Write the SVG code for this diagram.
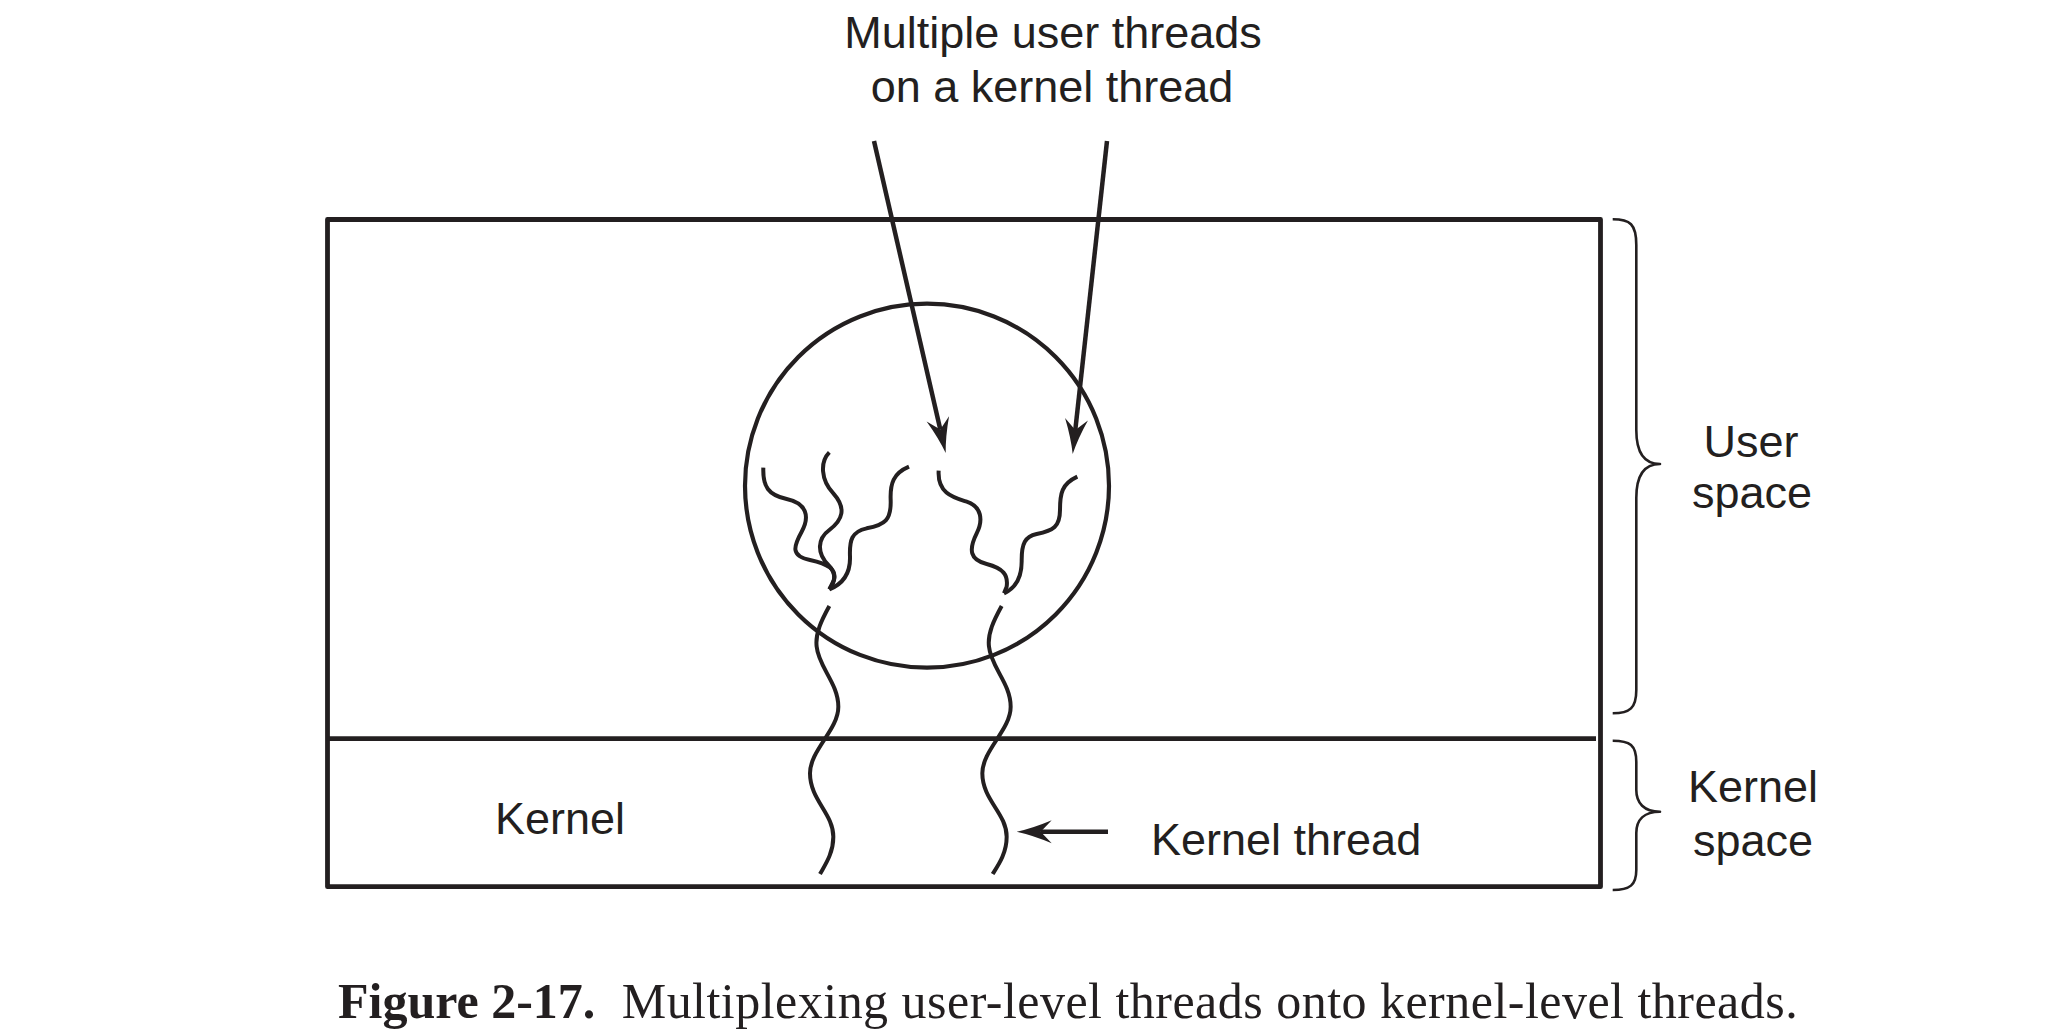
<svg xmlns="http://www.w3.org/2000/svg" width="2062" height="1034" viewBox="0 0 2062 1034">
<style>
.ln{fill:none;stroke:#231f20;stroke-linecap:butt;stroke-linejoin:round}
.sans{font-family:"Liberation Sans",Arial,Helvetica,sans-serif;font-size:45px;fill:#231f20}
.serif{font-family:"Liberation Serif","Times New Roman",serif;font-size:50px;fill:#231f20}
.thr{fill:none;stroke:#231f20;stroke-width:12;stroke-linecap:butt;stroke-linejoin:round}
</style>
<defs>
<marker id="ah" markerUnits="userSpaceOnUse" orient="auto" refX="0" refY="0" markerWidth="60" markerHeight="60" overflow="visible">
<path d="M24,0 Q8,-3.5 -11,-11.5 L0,0 L-11,11.5 Q8,3.5 24,0 Z" fill="#231f20"/>
</marker>
</defs>
<rect width="2062" height="1034" fill="#ffffff"/>

<g id="system-box">
<rect class="ln" x="327.5" y="219.5" width="1273" height="667.2" stroke-width="4.8"/>
<line class="ln" x1="327.5" y1="738.7" x2="1596" y2="738.7" stroke-width="4.8"/>
</g>

<g id="process-circle">
<circle class="ln" cx="927" cy="485.7" r="182" stroke-width="4.2"/>
</g>

<g id="user-threads" transform="translate(700,280) scale(0.333333)">
<path class="thr" d="M190,563 C188,620 205,645 260,657 C320,670 330,710 305,755 C280,800 272,828 330,840 C385,852 410,868 402,900 L388,928"/>
<path class="thr" d="M388,517 C360,545 362,600 400,640 C440,685 428,720 388,750 C352,776 350,820 385,855 C410,880 406,905 388,928"/>
<path class="thr" d="M627,560 C580,580 570,610 572,660 C574,720 555,735 500,745 C455,755 448,780 450,830 C452,890 420,915 388,928"/>
<path class="thr" d="M716,572 C712,640 760,652 800,665 C845,680 850,720 830,760 C805,810 810,840 860,852 C910,865 925,885 920,920 L912,940"/>
<path class="thr" d="M1132,590 C1085,612 1080,640 1080,690 C1080,740 1060,752 1010,762 C975,770 965,790 965,840 C966,895 945,925 912,940"/>
</g>

<g id="kernel-threads" transform="translate(760,580) scale(0.333333)">
<path class="thr" d="M208,78 C185,120 165,160 170,200 C175,260 235,310 235,380 C235,450 150,510 150,580 C150,660 220,700 220,770 C220,820 195,855 180,882"/>
<path class="thr" d="M725,78 C702,120 682,160 687,200 C692,260 752,310 752,380 C752,450 667,510 667,580 C667,660 740,700 740,770 C740,820 715,855 698,882"/>
</g>

<g id="user-space-brace">
<path class="ln" stroke-width="2.6" d="M1612.7,219.3 C1630,219.3 1636.3,224 1636.3,245 L1636.3,430 C1636.3,452 1644,464 1660,464 C1644,464 1636.3,476 1636.3,498 L1636.3,690 C1636.3,708 1630,713.3 1612.7,713.3"/>
<text class="sans" x="1751" y="456.7" text-anchor="middle">User</text>
<text class="sans" x="1752" y="508" text-anchor="middle">space</text>
</g>

<g id="kernel-space-brace">
<path class="ln" stroke-width="2.6" d="M1612.7,740.7 C1630,740.7 1636.3,745 1636.3,762 L1636.3,790 C1636.3,803 1644,811.7 1660,811.7 C1644,811.7 1636.3,820 1636.3,833 L1636.3,870 C1636.3,885 1630,890 1612.7,890"/>
<text class="sans" x="1753" y="801.7" text-anchor="middle">Kernel</text>
<text class="sans" x="1753" y="855.5" text-anchor="middle">space</text>
</g>

<g id="title-label">
<text class="sans" x="1053" y="48.3" text-anchor="middle" font-size="45.5">Multiple user threads</text>
<text class="sans" x="1052" y="101.7" text-anchor="middle" font-size="45.5">on a kernel thread</text>
</g>

<g id="kernel-label">
<text class="sans" x="560" y="834" text-anchor="middle">Kernel</text>
</g>

<g id="kernel-thread-label">
<text class="sans" x="1151" y="855">Kernel thread</text>
</g>

<g id="connectors">
<line class="ln" stroke-width="4.5" x1="874" y1="141" x2="940.3" y2="429.6" marker-end="url(#ah)"/>
<line class="ln" stroke-width="4.5" x1="1107" y1="141" x2="1075.3" y2="430.1" marker-end="url(#ah)"/>
<line class="ln" stroke-width="4.5" x1="1108" y1="831.7" x2="1040.7" y2="831.7" marker-end="url(#ah)"/>
</g>

<g id="caption">
<text class="serif" x="338" y="1017.5" font-weight="bold">Figure 2-17.</text>
<text class="serif" x="621.7" y="1017.5" textLength="1176" lengthAdjust="spacing">Multiplexing user-level threads onto kernel-level threads.</text>
</g>
</svg>
